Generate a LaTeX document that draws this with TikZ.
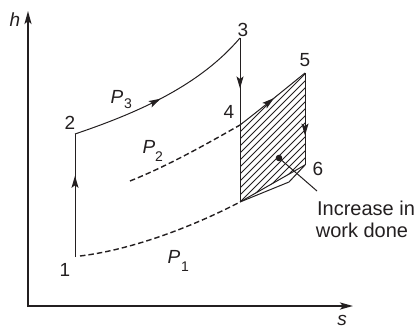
\documentclass[tikz,border=0pt]{standalone}
\usepackage{fontspec}
\setmainfont{Liberation Sans}
\usetikzlibrary{arrows.meta,decorations.markings}
\definecolor{ink}{HTML}{231F20}
\tikzset{
  ln/.style={draw=ink, line width=1pt},
  axis/.style={draw=ink, line width=2pt, -{Stealth[length=13pt,width=7pt,inset=3pt]}},
  dsh/.style={draw=ink, line width=1.4pt, dash pattern=on 5.5pt off 3pt},
  hatch/.style={draw=ink, line width=0.9pt},
  midarrow/.style={postaction={decorate},decoration={markings,
     mark=at position #1 with {\arrow{Stealth[length=12pt,width=7pt,inset=2.5pt]}}}},
  lbl/.style={font=\fontsize{19}{23}\selectfont, text=ink, inner sep=0pt},
  tlbl/.style={font=\fontsize{20}{24}\selectfont, text=ink, inner sep=0pt},
  ilbl/.style={font=\fontsize{19}{23}\selectfont\itshape, text=ink, inner sep=0pt},
  slbl/.style={font=\fontsize{14}{16}\selectfont, text=ink, inner sep=0pt}
}
\begin{document}
\begin{tikzpicture}[x=1pt,y=-1pt]
\useasboundingbox (0,0) rectangle (418,329);
% key points
\coordinate (o) at (28,306);
\coordinate (ytop) at (28,11);
\coordinate (xend) at (353,306);
\coordinate (p1) at (75,257);
\coordinate (p2) at (75,134);
\coordinate (p3) at (240,38);
\coordinate (p4) at (240,125);
\coordinate (p5) at (305,73);
\coordinate (p6) at (305,165);
\coordinate (q) at (240,202);
\coordinate (k) at (289,182);
\coordinate (d2) at (130,181);
\coordinate (dot) at (279,158);
\coordinate (lead) at (317,191);
% hatching
\begin{scope}
  \clip (p4) .. controls (262,108) and (284,90) .. (p5) -- (p6) -- (q) -- cycle;
  \foreach \c in {358,365,...,480} {
    \draw[hatch] (\c-215,215) -- (\c-55,55);
  }
\end{scope}
% axes
\draw[axis] (o) -- (ytop);
\draw[axis] (o) -- (xend);
\draw[ink, line width=2pt] (28,307) -- (o);
% cycle
\draw[ln, midarrow=0.66] (p1) -- (p2);
\draw[ln, midarrow=0.48] (p2) .. controls (140,112) and (200,85) .. (p3);
\draw[ln, midarrow=0.58] (p3) -- (p4);
\draw[ln] (p4) -- (q);
\draw[ln, midarrow=0.52] (p4) .. controls (262,108) and (284,90) .. (p5);
\draw[ln, midarrow=0.68] (p5) -- (p6);
\draw[ln] (p6) -- (q);
\draw[ln] (q) -- (k) -- (p6);
% constant pressure dashed lines
\draw[dsh] (d2) .. controls (170,165) and (210,142) .. (p4);
\draw[dsh] (80,256) .. controls (130,250) and (190,228) .. (q);
% dot and leader
\fill[ink] (dot) circle (3.3pt);
\draw[ln] (dot) -- (lead);
% labels
\node[ilbl] (h) at (15,20) {h};
\node[ilbl] (s) at (342,320) {s};
\node[lbl] (n1) at (65,270) {1};
\node[lbl] (n2) at (70,123) {2};
\node[lbl] (n3) at (243,30) {3};
\node[lbl] (n4) at (229,112) {4};
\node[lbl] (n5) at (305,60) {5};
\node[lbl] (n6) at (318,169) {6};
\node[ilbl] (P3) at (117,97) {P};
\node[slbl] (s3) at (128,104) {3};
\node[ilbl] (P2) at (149,147) {P};
\node[slbl] (s2) at (159,157) {2};
\node[ilbl] (P1) at (174,257) {P};
\node[slbl] (s1) at (185,267) {1};
\node[tlbl] (t1) at (366,208) {Increase in};
\node[tlbl] (t2) at (362,230) {work done};
\end{tikzpicture}
\end{document}
